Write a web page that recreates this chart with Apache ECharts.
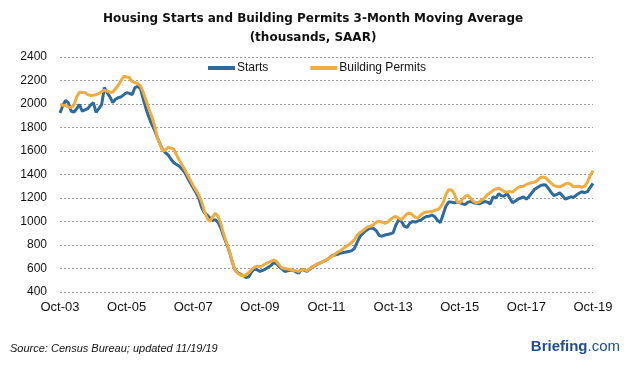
<!DOCTYPE html>
<html>
<head>
<meta charset="utf-8">
<script src="https://cdn.jsdelivr.net/npm/echarts@6/dist/echarts.min.js"></script>
<style>
html,body{margin:0;padding:0;background:#fff;}
#chart{width:626px;height:367px;}
</style>
</head>
<body>
<div id="chart"></div>
<script>
// Month categories Oct-03 .. Oct-19
var monthNames = ['Jan','Feb','Mar','Apr','May','Jun','Jul','Aug','Sep','Oct','Nov','Dec'];
var startYear = 2003, startMonth = 9, monthCount = 193;
var categories = [];
for (var k = 0; k < monthCount; k++) {
  var m = (startMonth + k) % 12;
  var y = startYear + Math.floor((startMonth + k) / 12);
  categories.push(monthNames[m] + '-' + String(y % 100).padStart(2, '0'));
}
var tickLabels = ['Oct-03','Oct-05','Oct-07','Oct-09','Oct-11','Oct-13','Oct-15','Oct-17','Oct-19'];

var starts = [
1924,1985,2030,2010,1940,1930,1960,1995,1940,1950,1960,1990,2012,1929,1960,1995,
2140,2097,2060,2012,2040,2054,2060,2080,2097,2090,2080,2140,2150,2130,2040,1960,
1890,1830,1782,1720,1660,1610,1585,1565,1530,1500,1485,1470,1445,1414,1370,1325,
1285,1245,1200,1120,1075,1055,1030,1010,1015,990,940,870,810,745,660,590,
565,550,540,522,530,570,595,590,575,585,595,610,625,650,640,615,
595,575,580,585,585,570,560,595,585,575,595,615,625,640,650,660,
672,690,710,715,720,730,735,740,745,750,770,820,870,895,920,935,
945,940,920,880,875,885,890,895,905,970,1014,1000,960,950,985,1000,
995,1005,1012,1030,1043,1045,1055,1040,1010,990,1060,1130,1165,1165,1160,1165,
1160,1150,1145,1165,1170,1160,1155,1150,1160,1170,1165,1150,1210,1200,1235,1220,
1215,1240,1200,1160,1175,1190,1200,1210,1190,1215,1245,1275,1290,1305,1312,1310,
1280,1245,1220,1230,1244,1220,1190,1200,1210,1205,1225,1240,1253,1245,1255,1290,
1324
];
var permits = [
1995,1990,1986,1975,1969,1990,2060,2100,2098,2097,2080,2072,2075,2080,2090,2105,
2117,2110,2100,2100,2130,2160,2200,2236,2230,2225,2190,2182,2174,2155,2100,2030,
1960,1900,1824,1720,1660,1600,1610,1630,1625,1615,1565,1520,1480,1440,1395,1350,
1305,1265,1225,1170,1090,1030,1000,1040,1070,1040,975,890,820,750,665,590,
560,545,538,545,565,590,610,620,615,625,640,650,660,672,660,630,
605,600,595,590,585,580,575,590,590,580,600,615,630,640,650,660,
675,690,705,720,740,750,770,786,800,820,843,880,905,920,940,955,
960,975,995,1000,995,985,995,1015,1035,1043,1030,1014,1040,1065,1074,1055,
1035,1031,1055,1074,1080,1082,1085,1095,1100,1120,1160,1230,1270,1268,1240,1170,
1160,1190,1215,1225,1195,1170,1160,1165,1185,1200,1230,1245,1265,1275,1285,1270,
1255,1250,1255,1250,1270,1290,1298,1300,1315,1325,1330,1335,1350,1375,1378,1372,
1345,1325,1305,1298,1295,1305,1320,1327,1315,1295,1298,1300,1290,1300,1335,1390,
1434
];

var chart = echarts.init(document.getElementById('chart'), null, {renderer: 'canvas'});
chart.setOption({
  animation: false,
  backgroundColor: '#ffffff',
  title: {
    text: 'Housing Starts and Building Permits 3-Month Moving Average\n(thousands, SAAR)',
    left: 'center',
    top: 4,
    textStyle: {fontFamily: 'DejaVu Sans', fontWeight: 'bold', fontSize: 12, color: '#111', lineHeight: 19}
  },
  legend: {
    top: 57,
    left: 203,
    itemGap: 42,
    itemWidth: 27,
    itemHeight: 4,
    icon: 'rect',
    textStyle: {fontFamily: 'Liberation Sans', fontSize: 12, color: '#111', padding: [0,0,0,-3]},
    data: ['Starts', 'Building Permits']
  },
  grid: {left: 60, right: 33, top: 57, bottom: 75},
  xAxis: {
    type: 'category',
    data: categories,
    boundaryGap: false,
    axisLine: {show: false},
    axisTick: {show: false},
    axisLabel: {
      interval: 23,
      margin: 9,
      fontFamily: 'Liberation Sans',
      fontSize: 13,
      color: '#111',
      formatter: function (v) { return tickLabels.indexOf(v) >= 0 ? v : ''; }
    },
    splitLine: {show: false}
  },
  yAxis: {
    type: 'value',
    min: 400,
    max: 2400,
    interval: 200,
    axisLine: {show: false},
    axisTick: {show: false},
    axisLabel: {margin: 13, fontFamily: 'Liberation Sans', fontSize: 12, color: '#111',
      formatter: function (v) { return String(v); }},
    splitLine: {lineStyle: {type: [2, 2], color: '#9a9a9a', width: 1}}
  },
  series: [
    {
      name: 'Starts',
      type: 'line',
      data: starts,
      showSymbol: false,
      symbol: 'none',
      lineStyle: {color: '#2E6A9C', width: 3},
      itemStyle: {color: '#2E6A9C'}
    },
    {
      name: 'Building Permits',
      type: 'line',
      data: permits,
      showSymbol: false,
      symbol: 'none',
      lineStyle: {color: '#F0AC3E', width: 3},
      itemStyle: {color: '#F0AC3E'}
    }
  ],
  graphic: [
    {
      type: 'text',
      left: 10,
      top: 343,
      style: {text: 'Source: Census Bureau; updated 11/19/19', fontFamily: 'Liberation Sans', fontStyle: 'italic', fontSize: 11, fill: '#111'}
    },
    {
      type: 'text',
      right: 6,
      top: 339,
      style: {
        text: '{b|Briefing}{c|.com}',
        rich: {
          b: {fontFamily: 'Liberation Sans', fontWeight: 'bold', fontSize: 15, fill: '#1F4E8C', color: '#1F4E8C'},
          c: {fontFamily: 'Liberation Sans', fontSize: 15, fill: '#1F4E8C', color: '#1F4E8C'}
        }
      }
    }
  ]
});
</script>
</body>
</html>
